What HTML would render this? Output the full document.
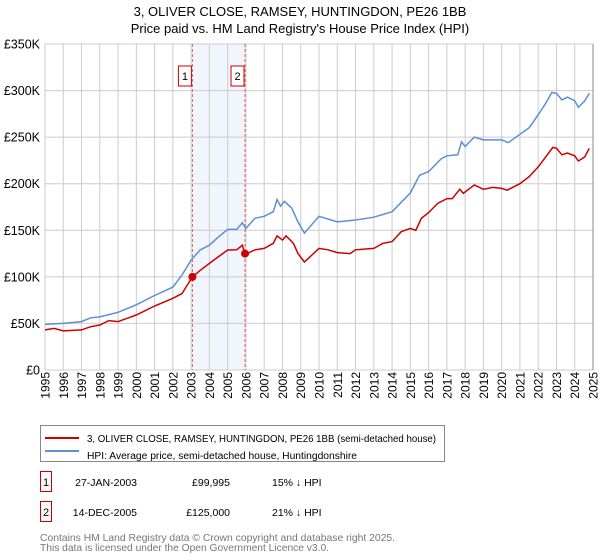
<!DOCTYPE html>
<html><head><meta charset="utf-8">
<style>
body{margin:0;background:#fff;font-family:"Liberation Sans","DejaVu Sans",sans-serif;}
#wrap{position:relative;width:600px;height:560px;overflow:hidden;}
</style></head><body>
<div id="wrap">
<svg id="chart" width="600" height="560" style="position:absolute;left:0;top:0"></svg>
</div>
<script>
const hpiYears=[1995,1996,1997,1997.5,1998,1999,2000,2001,2002,2002.5,2003,2003.5,2004,2004.5,2005,2005.5,2005.8,2006,2006.5,2007,2007.5,2007.7,2007.9,2008.1,2008.5,2008.85,2009.2,2010,2011,2012,2013,2014,2015,2015.5,2016,2016.7,2017,2017.6,2017.8,2018,2018.5,2019,2020,2020.35,2021,2021.5,2022,2022.4,2022.75,2023,2023.3,2023.6,2024,2024.2,2024.55,2024.8];
const hpiValues=[49,50,52,56,57,62,70,80,89,102,118,129,134,143,151,151,158,152,163,165,170,183,176,181,174,159,147,165,159,161,164,170,190,209,213,227,230,231,245,240,250,247,247,244,253,260,274,286,298,297,290,293,289,282,289,297];
const paidYears=[1995,1995.5,1996,1997,1997.5,1998,1998.5,1999,2000,2001,2002,2002.5,2003.07,2003.5,2004,2004.5,2005,2005.5,2005.8,2005.95,2006.5,2007,2007.5,2007.7,2008,2008.2,2008.6,2008.85,2009.2,2010,2010.5,2011,2011.7,2012,2013,2013.5,2014,2014.5,2015,2015.3,2015.6,2016,2016.5,2017,2017.3,2017.7,2017.9,2018.5,2019,2019.5,2020,2020.3,2021,2021.5,2022,2022.5,2022.8,2023,2023.3,2023.6,2024,2024.2,2024.55,2024.8];
const paidValues=[43,44.7,42,43,46.5,48.3,53,52,59,68.7,77,82,100,107,114.5,121.7,128.8,129,134,124,129,130.6,136,144,139.6,144,136,125,116,130.6,129,126,125,129,130.6,136,137.8,148.5,152,150,162.8,169,179,184,184,194,189.7,198.6,194,196,195,193,200,207.5,218,231,239,238,231,233,230,224.4,228.8,238];
const saleYears=[2003.07,2005.95];
const saleValues=[99.995,125];
const saleLabels=["1","2"];
const yTicks=[0,50,100,150,200,250,300,350];
const yTickLabels=["£0","£50K","£100K","£150K","£200K","£250K","£300K","£350K"];
const xTicks=[1995,1996,1997,1998,1999,2000,2001,2002,2003,2004,2005,2006,2007,2008,2009,2010,2011,2012,2013,2014,2015,2016,2017,2018,2019,2020,2021,2022,2023,2024,2025];

const L=45,R=593,T=44,B=370;
const xs=y=>L+(y-1995)/30*(R-L);
const ys=v=>B-v/350*(B-T);
const svg=document.getElementById('chart');
const NS='http://www.w3.org/2000/svg';
const FF='Liberation Sans, DejaVu Sans, sans-serif';
function mk(tag,attrs,parent){const e=document.createElementNS(NS,tag);for(const k in attrs)e.setAttribute(k,attrs[k]);(parent||svg).appendChild(e);return e;}

let t1=mk('text',{x:300,y:16,'text-anchor':'middle','font-size':13,'font-family':FF});t1.textContent='3, OLIVER CLOSE, RAMSEY, HUNTINGDON, PE26 1BB';

let t2=mk('text',{x:300,y:33,'text-anchor':'middle','font-size':13,'font-family':FF});t2.textContent="Price paid vs. HM Land Registry's House Price Index (HPI)";


let sh=mk('rect',{x:xs(saleYears[0]),y:T,width:xs(saleYears[1])-xs(saleYears[0]),height:B-T,fill:'#eef3fc',opacity:0.8});


xTicks.forEach(y=>{let g=mk('line',{x1:xs(y),x2:xs(y),y1:T,y2:B,stroke:'#cccccc','stroke-width':1});

let tx=mk('text',{x:0,y:0,transform:`translate(${xs(y)+4.5},${B+2}) rotate(-90)`,'text-anchor':'end','font-size':12,'font-family':FF});
tx.textContent=y;});
yTicks.forEach((v,i)=>{let g=mk('line',{x1:L,x2:R,y1:ys(v),y2:ys(v),stroke:'#cccccc','stroke-width':1});

let tx=mk('text',{x:40,y:ys(v)+4.5,'text-anchor':'end','font-size':12.5,'font-family':FF});
tx.textContent=yTickLabels[i];});
let rb=mk('line',{x1:R,x2:R,y1:T,y2:B,stroke:'#888','stroke-width':1});


saleYears.forEach((y,i)=>{let l=mk('line',{x1:xs(y),x2:xs(y),y1:T,y2:B,stroke:'#e06060','stroke-width':1,'stroke-dasharray':'3,2'});

let bx=mk('rect',{x:xs(y)-14,y:66,width:13,height:20,fill:'#fff',stroke:'#cc0000','stroke-width':1});

let tx=mk('text',{x:xs(y)-7.5,y:80,'text-anchor':'middle','font-size':11,'font-family':FF});
tx.textContent=saleLabels[i];});

function path(xa,va){return xa.map((y,i)=>(i?'L':'M')+xs(y).toFixed(1)+','+ys(va[i]).toFixed(1)).join('');}
let hp=mk('path',{d:path(hpiYears,hpiValues),fill:'none',stroke:'#5b8fd6','stroke-width':1.5});

let pp=mk('path',{d:path(paidYears,paidValues),fill:'none',stroke:'#cc0000','stroke-width':1.5});

saleYears.forEach((y,i)=>{let c=mk('circle',{cx:xs(y),cy:ys(saleValues[i]),r:4,fill:'#cc0000'});
});

let lg=mk('rect',{x:40.5,y:425.5,width:404,height:36,fill:'#fff',stroke:'#888','stroke-width':1});

let l1=mk('line',{x1:45,x2:79,y1:438,y2:438,stroke:'#cc0000','stroke-width':2});

let l2=mk('line',{x1:45,x2:79,y1:451,y2:451,stroke:'#5b8fd6','stroke-width':2});

function txt(s,x,y,name,opts){let e=mk('text',Object.assign({x:x,y:y,'font-size':11,'font-family':FF},opts||{}));e.textContent=s;
return e;}
txt('3, OLIVER CLOSE, RAMSEY, HUNTINGDON, PE26 1BB (semi-detached house)',87,442,'legend-entry-price',{'font-size':9.7,textLength:349,lengthAdjust:'spacingAndGlyphs'});
txt('HPI: Average price, semi-detached house, Huntingdonshire',87,459,'legend-entry-hpi',{'font-size':9.7,textLength:270,lengthAdjust:'spacingAndGlyphs'});

const rows=[["1","27-JAN-2003","£99,995","15% ↓ HPI",483],["2","14-DEC-2005","£125,000","21% ↓ HPI",513]];
rows.forEach(r=>{let b=mk('rect',{x:40.5,y:r[4]-11.5,width:11,height:20,fill:'#fff',stroke:'#cc0000','stroke-width':1});

txt(r[0],46,r[4]+3,'table-row-number',{'text-anchor':'middle','font-size':11});
txt(r[1],137,r[4]+3,'table-row-date',{'text-anchor':'end','font-size':10.5});
txt(r[2],230,r[4]+3,'table-row-price',{'text-anchor':'end','font-size':10.5});
txt(r[3],272,r[4]+3,'table-row-hpi-diff',{'font-size':10.5});});
txt('Contains HM Land Registry data © Crown copyright and database right 2025.',40,541,'footer-copyright',{fill:'#777','font-size':10.4,textLength:355,lengthAdjust:'spacingAndGlyphs'});
txt('This data is licensed under the Open Government Licence v3.0.',40,551,'footer-licence',{fill:'#777','font-size':10.4,textLength:289,lengthAdjust:'spacingAndGlyphs'});
</script>
</body></html>
